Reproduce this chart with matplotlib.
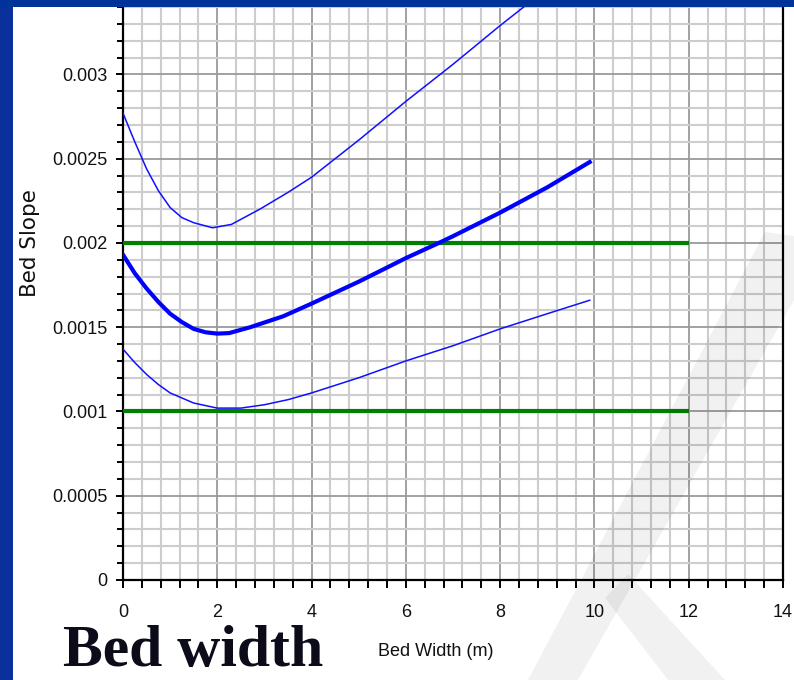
import matplotlib
matplotlib.use("Agg")
import matplotlib.pyplot as plt
from matplotlib import font_manager
from matplotlib.patches import Polygon, Rectangle
from matplotlib.ticker import MultipleLocator, FixedFormatter, FixedLocator

# ---- data ----
x_upper = [0, 0.25, 0.5, 0.75, 1.0, 1.25, 1.5, 1.9, 2.3, 2.9, 3.5, 4, 4.5, 5, 6, 7, 8, 9, 9.9]
y_upper = [0.00277, 0.00260, 0.00244, 0.00231, 0.00221, 0.00215, 0.00212, 0.00209, 0.00211,
           0.00220, 0.00230, 0.00239, 0.00250, 0.00261, 0.00284, 0.00306, 0.00329, 0.00351,
           0.00371]

x_mid = [0, 0.25, 0.5, 0.75, 1.0, 1.25, 1.5, 1.75, 2.0, 2.25, 2.7, 3.4, 4, 5, 6, 6.7, 7, 8, 9, 9.9]
y_mid = [0.00193, 0.00182, 0.00173, 0.00165, 0.00158, 0.00153, 0.00149, 0.00147, 0.001462,
         0.001465, 0.00150, 0.001565, 0.00164, 0.00177, 0.00191, 0.00200, 0.00204, 0.00218,
         0.00233, 0.00248]

x_lower = [0, 0.25, 0.5, 0.75, 1.0, 1.5, 2.0, 2.5, 3.0, 3.5, 4, 5, 6, 7, 8, 9, 9.9]
y_lower = [0.00137, 0.00129, 0.00122, 0.00116, 0.00111, 0.00105, 0.00102, 0.00102, 0.00104,
           0.00107, 0.00111, 0.00120, 0.00130, 0.00139, 0.00149, 0.00158, 0.00166]

limit_x = [0, 12]
limit_high = [0.002, 0.002]
limit_low = [0.001, 0.001]

x_ticks = [0, 2, 4, 6, 8, 10, 12, 14]
x_tick_labels = ["0", "2", "4", "6", "8", "10", "12", "14"]
y_ticks = [0, 0.0005, 0.001, 0.0015, 0.002, 0.0025, 0.003]
y_tick_labels = ["0", "0.0005", "0.001", "0.0015", "0.002", "0.0025", "0.003"]

x_label = "Bed Width (m)"
y_label = "Bed Slope"
title_text = "Bed width"

# ---- fonts ----
avail = {f.name for f in font_manager.fontManager.ttflist}
narrow = "Liberation Sans Narrow" if "Liberation Sans Narrow" in avail else "Liberation Sans"
tick_size = 15 if narrow == "Liberation Sans Narrow" else 13

W, H = 794, 680
fig = plt.figure(figsize=(W / 100, H / 100), dpi=100)
fig.patch.set_facecolor("white")

def fx(px):
    return px / W

def fy(py):
    return 1 - py / H

ax = fig.add_axes([fx(123), fy(580), fx(783) - fx(123), fy(7) - fy(580)])
ax.set_xlim(0, 14)
ax.set_ylim(0, 0.0034)

ax.xaxis.set_major_locator(FixedLocator(x_ticks))
ax.xaxis.set_major_formatter(FixedFormatter(x_tick_labels))
ax.xaxis.set_minor_locator(MultipleLocator(0.4))
ax.yaxis.set_major_locator(FixedLocator(y_ticks))
ax.yaxis.set_major_formatter(FixedFormatter(y_tick_labels))
ax.yaxis.set_minor_locator(MultipleLocator(0.0001))

ax.grid(which="minor", color="#cdcdcd", linewidth=1.5, zorder=0)
ax.grid(which="major", color="#9a9a9a", linewidth=1.3, zorder=0)
ax.set_axisbelow(True)

for s in ["left", "bottom", "right"]:
    ax.spines[s].set_linewidth(1.6)
    ax.spines[s].set_color("black")
ax.spines["top"].set_visible(False)

ax.tick_params(axis="both", which="both", direction="out", color="black", width=1.4)
ax.tick_params(axis="x", which="major", length=6, pad=11)
ax.tick_params(axis="x", which="minor", length=6)
ax.tick_params(axis="y", which="major", length=5, pad=6)
ax.tick_params(axis="y", which="minor", length=4)
for lab in ax.get_xticklabels() + ax.get_yticklabels():
    lab.set_fontfamily(narrow)
    lab.set_fontsize(tick_size)
    lab.set_color("#111111")

ax.plot(limit_x, limit_high, color="#008000", linewidth=3, zorder=3, solid_capstyle="butt")
ax.plot(limit_x, limit_low, color="#008000", linewidth=3, zorder=3, solid_capstyle="butt")
ax.plot(x_upper, y_upper, color="#1010ff", linewidth=1.1, zorder=4)
ax.plot(x_lower, y_lower, color="#1010ff", linewidth=1.1, zorder=4)
ax.plot(x_mid, y_mid, color="#0000ff", linewidth=3.0, zorder=5)

fig.text(fx(436), fy(652), x_label, fontfamily=narrow, fontsize=tick_size,
         ha="center", va="center", color="#111111")
fig.text(fx(30), fy(243), y_label, fontfamily="DejaVu Sans", fontsize=15.5,
         rotation=90, ha="center", va="center", color="#111111")

# watermark (faint logo shapes)
wm = [
    [(528, 680), (578, 680), (794, 300), (794, 236), (765, 232)],
    [(605, 598), (628, 574), (725, 680), (668, 680)],
]
for poly in wm:
    pts = [(fx(a), fy(b)) for a, b in poly]
    fig.patches.append(Polygon(pts, closed=True, transform=fig.transFigure,
                               facecolor="black", alpha=0.055, edgecolor="none", zorder=10))

# slide frame bands
fig.patches.append(Rectangle((0, 0), fx(12.5), 1, transform=fig.transFigure,
                             facecolor="#0a309c", edgecolor="none", zorder=20))
fig.patches.append(Rectangle((0, fy(7)), 1, 1 - fy(7), transform=fig.transFigure,
                             facecolor="#003399", edgecolor="none", zorder=20))

fig.text(fx(63), fy(666), title_text, fontfamily="Liberation Serif", fontweight="bold",
         fontsize=43, ha="left", va="baseline", color="#0b0b1a", zorder=30)

fig.savefig("out.png", dpi=100)
